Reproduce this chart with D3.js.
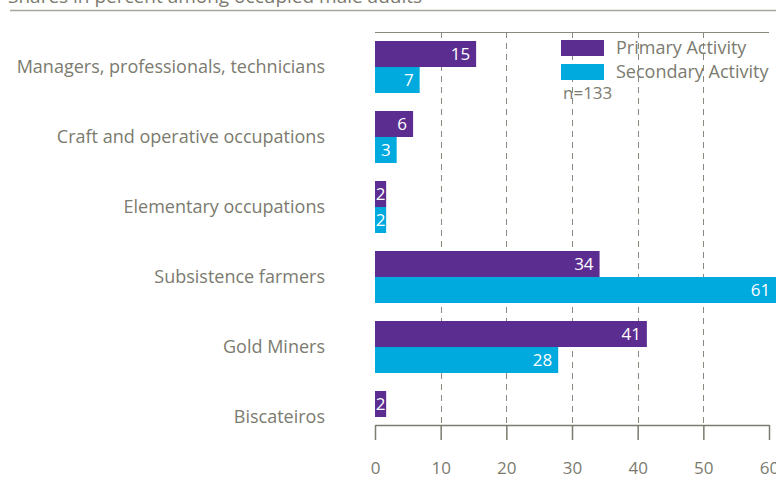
<!DOCTYPE html>
<html>
<head>
<meta charset="utf-8">
<script src="https://cdn.jsdelivr.net/npm/d3@7"></script>
<style>
  body { margin: 0; background: #fff; }
  text { font-family: "Open Sans", sans-serif; }
</style>
</head>
<body>
<div id="chart"></div>
<script>
let categories = [
    "Managers, professionals, technicians",
    "Craft and operative occupations",
    "Elementary occupations",
    "Subsistence farmers",
    "Gold Miners",
    "Biscateiros"
]
let primaryValues = [15.4, 5.8, 1.7, 34.2, 41.4, 1.7]
let secondaryValues = [6.8, 3.3, 1.7, 61.1, 27.9, null]
let seriesNames = ["Primary Activity", "Secondary Activity"]
let xTicks = [0, 10, 20, 30, 40, 50, 60]
let title = "Shares in percent among occupied male adults"
let note = "n=133"

let colors = ["#5c2d91", "#00a9de"]
let grey = "#7b7b6f"

let width = 776, height = 484
let margins = {top: 32, left: 375, bottom: 425}

let svg = d3.select("#chart").append("svg")
    .attr("width", width).attr("height", height)

// title, mostly cut by the top edge
svg.append("text")
    .attr("x", 8).attr("y", 3)
    .attr("fill", grey).style("font-size", "19px")
    .text(title)
svg.append("line")
    .attr("x1", 10).attr("x2", width).attr("y1", 10.5).attr("y2", 10.5)
    .attr("stroke", "#a8a69c").attr("stroke-width", 1.5)

let x = d3.scaleLinear().domain([0, 60]).range([margins.left, 769])
let y = d3.scaleBand().domain(categories).range([margins.top + 2, margins.top + 2 + 70 * 6])

// dashed grid
svg.append("g").selectAll("line")
    .data(xTicks.filter(d => d > 0 && d < 60))
    .join("line")
    .attr("x1", d => Math.round(x(d)) + 0.5).attr("x2", d => Math.round(x(d)) + 0.5)
    .attr("y1", margins.top).attr("y2", margins.bottom)
    .attr("stroke", "#8a897e").attr("stroke-width", 1)
    .attr("stroke-dasharray", "6,5")

// top frame line
svg.append("line")
    .attr("x1", margins.left).attr("x2", 769).attr("y1", margins.top + 0.5).attr("y2", margins.top + 0.5)
    .attr("stroke", "#8a897e")

let barH = 26
let rows = categories.map((c, i) => ({cat: c, vals: [primaryValues[i], secondaryValues[i]]}))

let groups = svg.append("g").selectAll("g")
    .data(rows).join("g")
    .attr("transform", d => `translate(0, ${y(d.cat) + 7})`)

groups.each(function(row) {
    let g = d3.select(this)
    row.vals.forEach((v, j) => {
        if (v === null) return
        let w = x(v) - x(0)
        g.append("rect")
            .attr("x", x(0)).attr("y", j * barH)
            .attr("width", w).attr("height", barH)
            .attr("fill", colors[j])
        let t = g.append("text")
            .attr("y", j * barH + barH / 2)
            .attr("dy", "0.36em")
            .attr("text-anchor", "end")
            .attr("fill", "#fff").style("font-size", "17px").style("font-weight", 500)
            .text(Math.round(v))
        // keep the label inside narrow bars
        let tw = t.node().getComputedTextLength()
        let pad = Math.min(6, Math.max(0, (w - tw) / 2))
        t.attr("x", x(v) - pad)
    })
    g.append("text")
        .attr("x", 325).attr("y", barH)
        .attr("dy", "0.36em")
        .attr("text-anchor", "end")
        .attr("fill", grey).style("font-size", "18px")
        .text(row.cat)
})

// bottom axis
let axis = svg.append("g")
    .attr("transform", `translate(0, ${margins.bottom})`)
    .call(d3.axisBottom(x).tickValues(xTicks).tickSize(15).tickSizeOuter(0).tickPadding(22))
axis.select(".domain").attr("stroke", grey).attr("stroke-width", 1.5)
axis.selectAll(".tick line").attr("stroke", grey).attr("stroke-width", 1.5)
axis.selectAll(".tick text")
    .attr("fill", grey).style("font-size", "17px")
    .style("font-family", "Open Sans, sans-serif")

// legend
let legend = svg.append("g").attr("transform", "translate(561, 40)")
seriesNames.forEach((name, i) => {
    legend.append("rect")
        .attr("x", 0).attr("y", i * 24)
        .attr("width", 43).attr("height", 16)
        .attr("fill", colors[i])
    legend.append("text")
        .attr("x", 55).attr("y", i * 24 + 8)
        .attr("dy", "0.36em")
        .attr("fill", grey).style("font-size", "18px")
        .text(name)
})
legend.append("text")
    .attr("x", 2).attr("y", 59)
    .attr("fill", grey).style("font-size", "17px")
    .text(note)
</script>
</body>
</html>
